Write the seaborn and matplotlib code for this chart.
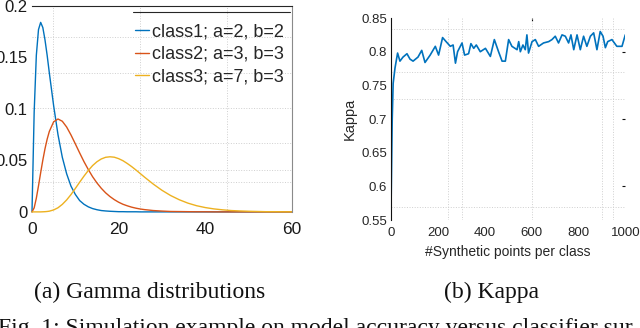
import pandas as pd
import numpy as np
import matplotlib.pyplot as plt
import seaborn as sns
from matplotlib.lines import Line2D

# --- left panel: gamma densities ---
x_gamma = [0, 0.5, 1, 1.5, 2, 2.5, 3, 3.5, 4, 5, 6, 7, 8, 9, 10, 11, 12, 13, 14, 15, 16,
           17, 18, 19, 20, 21, 22, 23, 24, 25, 26, 28, 30, 32, 34, 36, 38, 40, 42, 44,
           46, 48, 50, 52, 54, 56, 58, 60]
class1 = [0, 0.097, 0.152, 0.177, 0.184, 0.179, 0.167, 0.152, 0.135, 0.103, 0.075, 0.053,
          0.037, 0.025, 0.017, 0.011, 0.0074, 0.0049, 0.0032, 0.0021, 0.0013, 0.0009,
          0.0006, 0.0004, 0.0002, 0.0002, 0.0001, 0.0001, 0.0001, 0, 0,
          0, 0, 0, 0, 0, 0, 0, 0, 0, 0, 0, 0, 0, 0, 0, 0, 0]
class2 = [0, 0.0039, 0.0133, 0.0253, 0.038, 0.0503, 0.0613, 0.0706, 0.0781, 0.0875, 0.0902,
          0.088, 0.0824, 0.0747, 0.0661, 0.0573, 0.0488, 0.0411, 0.0341, 0.0281, 0.0229,
          0.0185, 0.0149, 0.0119, 0.0094, 0.0074, 0.0059, 0.0046, 0.0036, 0.0028, 0.0022,
          0.0013, 0.0008, 0.0004, 0.0003, 0.0002, 0.0001, 0.0001, 0, 0, 0, 0, 0, 0, 0, 0, 0, 0]
class3 = [0, 0, 0, 0, 0, 0.0001, 0.0002, 0.0004, 0.0007, 0.0019, 0.004, 0.0073, 0.0116,
          0.0168, 0.0227, 0.0288, 0.0347, 0.0402, 0.045, 0.0487, 0.0514, 0.053, 0.0535,
          0.0531, 0.0517, 0.0497, 0.047, 0.044, 0.0407, 0.0372, 0.0337,
          0.027, 0.021, 0.0159, 0.0118, 0.0085, 0.006, 0.0042, 0.0029, 0.002, 0.0013,
          0.0009, 0.0006, 0.0004, 0.0002, 0.0002, 0.0001, 0.0001]
class_labels = ['class1; a=2, b=2', 'class2; a=3, b=3', 'class3; a=7, b=3']
class_colors = ['#0072BD', '#D95319', '#EDB120']

# --- right panel: kappa vs synthetic points ---
kappa_x = [0, 5, 9, 17, 28, 38, 51, 68, 81, 94, 115, 131, 145, 167, 189, 203, 220, 235,
           253, 265, 275, 284, 303, 314, 331, 341, 353, 364, 381, 403, 424, 441, 459, 474,
           488, 502, 516, 538, 545, 552, 563, 573, 580, 587, 602, 616, 630, 651, 673, 687,
           701, 715, 730, 744, 758, 768, 780, 794, 808, 822, 836, 851, 865, 879, 893, 905,
           915, 925, 943, 964, 986, 1000]
kappa_y = [0.57, 0.70, 0.753, 0.776, 0.798, 0.786, 0.792, 0.797, 0.789, 0.786, 0.792, 0.802,
           0.784, 0.795, 0.808, 0.795, 0.821, 0.815, 0.808, 0.81, 0.783, 0.8, 0.813, 0.795,
           0.797, 0.812, 0.805, 0.81, 0.8, 0.805, 0.793, 0.818, 0.8, 0.786, 0.786, 0.818,
           0.808, 0.803, 0.815, 0.8, 0.81, 0.803, 0.825, 0.798, 0.815, 0.818, 0.808, 0.813,
           0.815, 0.818, 0.823, 0.813, 0.825, 0.823, 0.813, 0.825, 0.803, 0.825, 0.803,
           0.823, 0.808, 0.823, 0.828, 0.803, 0.83, 0.823, 0.806, 0.815, 0.818, 0.808,
           0.808, 0.825]

sns.set_style('white')
plt.rcParams['font.family'] = ['Liberation Sans', 'DejaVu Sans']

fig = plt.figure(figsize=(6.4, 3.28), dpi=100)
ax1 = fig.add_axes([0.05, 0.354, 0.406, 0.628])
ax2 = fig.add_axes([0.611, 0.329, 0.366, 0.616])

grid_kw = dict(which='minor', linestyle=':', color='#cfcfcf', linewidth=0.7)

# left panel
n = len(x_gamma)
gamma_df = pd.DataFrame({
    'x': x_gamma * 3,
    'y': class1 + class2 + class3,
    'curve': [class_labels[0]] * n + [class_labels[1]] * n + [class_labels[2]] * n,
})
sns.lineplot(data=gamma_df, x='x', y='y', hue='curve', errorbar=None,
             palette=dict(zip(class_labels, class_colors)), linewidth=1.0, ax=ax1)
for ln in ax1.lines:
    ln.set_clip_on(False)
ax1.set(xlim=(0, 60), ylim=(0, 0.2), xlabel='', ylabel='')
ax1.set_xticks([0, 20, 40, 60])
ax1.set_yticks([0, 0.05, 0.1, 0.15, 0.2])
ax1.set_yticklabels(['0', '0.05', '0.1', '0.15', '0.2'])
ax1.set_xticks([4.8, 24.9, 45], minor=True)
ax1.set_yticks([0.029, 0.041, 0.067, 0.101, 0.135, 0.17], minor=True)
ax1.grid(**grid_kw)
ax1.tick_params(which='both', length=0, colors='#1a1a1a')
ax1.tick_params(axis='x', pad=7, labelsize=12.5)
ax1.tick_params(axis='y', pad=3.5, labelsize=12)
for s in ['left', 'bottom']:
    ax1.spines[s].set_visible(False)
ax1.spines['top'].set_color('#262626')
ax1.spines['top'].set_linewidth(0.8)
ax1.spines['right'].set_color('#8a8a8a')
ax1.spines['right'].set_linewidth(0.8)

handles, labels = ax1.get_legend_handles_labels()
ax1.legend(handles, labels, loc='upper right', bbox_to_anchor=(0.97, 0.915),
           frameon=False, fontsize=13, handlelength=0.8, handletextpad=0.15,
           labelspacing=0.3, borderaxespad=0, borderpad=0)
ax1.add_line(Line2D([0.388, 0.992], [0.971, 0.971], transform=ax1.transAxes,
                    color='#262626', linewidth=0.8))

# right panel
sns.lineplot(x=kappa_x, y=kappa_y, color='#0072BD', linewidth=1.2, ax=ax2)
ax2.set(xlim=(0, 1000), ylim=(0.55, 0.85))
ax2.set_xticks([0, 200, 400, 600, 800, 1000])
ax2.set_yticks([0.55, 0.6, 0.65, 0.7, 0.75, 0.8, 0.85])
ax2.set_yticklabels(['0.55', '0.6', '0.65', '0.7', '0.75', '0.8', '0.85'])
ax2.set_xticks([245, 303, 602, 902, 949], minor=True)
ax2.set_yticks([0.57, 0.60, 0.65, 0.73, 0.77, 0.833], minor=True)
ax2.grid(**grid_kw)
ax2.tick_params(which='both', length=0, labelsize=9.5, colors='#262626')
ax2.tick_params(axis='x', pad=5)
ax2.tick_params(axis='y', pad=3)
ax2.set_xlabel('#Synthetic points per class', fontsize=10, color='#262626', labelpad=4)
ax2.set_ylabel('Kappa', fontsize=10.5, color='#262626', labelpad=3)
for s in ['top', 'right', 'bottom']:
    ax2.spines[s].set_visible(False)
ax2.spines['left'].set_color('#111111')
ax2.spines['left'].set_linewidth(0.8)

sec = ax2.secondary_yaxis('right')
sec.set_yticks([0.6, 0.7, 0.8])
sec.tick_params(length=2, direction='in', labelright=False, color='#111111')
sec.spines['right'].set_visible(False)
sec_top = ax2.secondary_xaxis('top')
sec_top.set_xticks([600])
sec_top.tick_params(length=2, direction='in', labeltop=False, color='#111111')
sec_top.spines['top'].set_visible(False)

# captions
fig.text(150 / 640, 0.0915, '(a) Gamma distributions', ha='center', va='baseline',
         family='Liberation Serif', fontsize=17, color='#111111')
fig.text(492 / 640, 0.0915, '(b) Kappa', ha='center', va='baseline',
         family='Liberation Serif', fontsize=17, color='#111111')
fig.text(-0.003, -0.018, 'Fig. 1: Simulation example on model accuracy versus classifier sur',
         ha='left', va='baseline', family='Liberation Serif', fontsize=17, color='#111111')

plt.savefig('out.png', dpi=100)
